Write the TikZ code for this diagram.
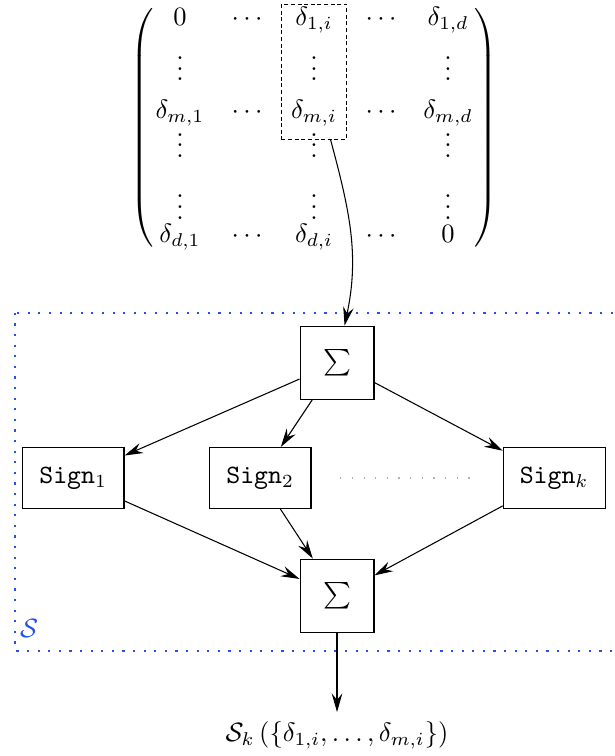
\documentclass[tikz,border=0pt]{standalone}
\usepackage{amssymb}
\usepackage{amsmath}
\usepackage{color}
\usepackage{tikz}
\usetikzlibrary{matrix,fit,calc,arrows.meta}
\definecolor{sblue}{RGB}{40,80,235}

\begin{document}
\begin{tikzpicture}[>={Stealth[length=7pt,width=4pt,inset=2.4pt]},
  sumbox/.style={draw,minimum width=0.98cm,minimum height=0.97cm,inner sep=0pt},
  signbox/.style={draw,minimum width=1.35cm,minimum height=0.81cm,inner sep=0pt},
  entry/.style={minimum width=0.889cm,inner sep=0pt,text height=8pt,text depth=3pt,anchor=center}]
\useasboundingbox (0,0) rectangle (8.156,-10.027);
\matrix (D) [matrix of math nodes,nodes=entry,column sep=0pt,inner xsep=-0.15cm,inner ysep=-0.04cm,
  left delimiter=(,right delimiter=)] at (4.165,-1.69) {
0 & \cdots & \delta_{1,i} & \cdots & \delta_{1,d} \\[0.341cm]
\vdots & & \vdots & & \vdots \\[0.116cm]
\delta_{m,1} & \cdots & \delta_{m,i} & \cdots & \delta_{m,d} \\[0.13cm]
\vdots & & \vdots & & \vdots \\[0.43cm]
\vdots & & \vdots & & \vdots \\[-0.08cm]
\delta_{d,1} & \cdots & \delta_{d,i} & \cdots & 0 \\
};
\coordinate (colbot) at ($(D-3-3.south)+(0,-0.16)$);
\node (col) [draw,dash pattern=on 1.5pt off 1pt,inner ysep=0pt,inner xsep=-0.02cm,fit=(D-1-3)(colbot)] {};
\node (St) [sumbox] at (4.47,-4.81) {$\sum$};
\node (S1) [signbox] at (0.97,-6.34) {\texttt{Sign}$_1$};
\node (S2) [signbox] at (3.45,-6.34) {\texttt{Sign}$_2$};
\node (Sk) [signbox] at (7.35,-6.34) {\texttt{Sign}$_k$};
\node (Sb) [sumbox] at (4.47,-7.90) {$\sum$};
\node (out) at (4.47,-9.75) {$\mathcal{S}_k\left(\{\delta_{1,i},\ldots,\delta_{m,i}\}\right)$};
\draw[sblue,line width=0.8pt,dash pattern=on 0.8pt off 3.2pt] (0.20,-4.15) rectangle (8.4,-8.63);
\node (slab) [text=sblue] at (0.385,-8.33) {$\mathcal{S}$};
\draw[->] ($(col.south)!0.5!(col.south east)$) to[out=-75,in=78] ($(St.north)+(0.1,0)$);
\draw[->] (St) -- (S1);
\draw[->] (St) -- (S2);
\draw[->] (St) -- (Sk);
\draw[->] (S1) -- (Sb);
\draw[->] (S2) -- (Sb);
\draw[->] (Sk) -- (Sb);
\draw[gray!60,loosely dotted] ($(S2.east)+(0.38,0)$) -- ($(Sk.west)+(-0.44,0)$);
\draw[->] (Sb) -- (out);
\end{tikzpicture}
\end{document}
